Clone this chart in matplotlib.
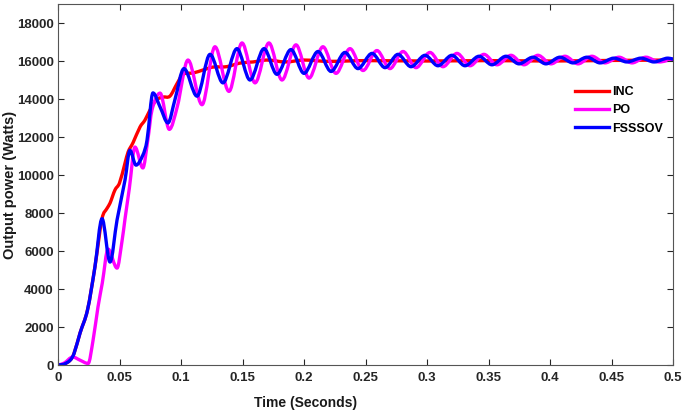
import numpy as np
import matplotlib
matplotlib.use("Agg")
import matplotlib.pyplot as plt
from matplotlib.path import Path
from matplotlib.patches import PathPatch
from matplotlib.lines import Line2D

# ---------------- data ----------------
x_ticks = [0, 0.05, 0.1, 0.15, 0.2, 0.25, 0.3, 0.35, 0.4, 0.45, 0.5]
x_tick_labels = ["0", "0.05", "0.1", "0.15", "0.2", "0.25", "0.3", "0.35", "0.4", "0.45", "0.5"]
y_ticks = [0, 2000, 4000, 6000, 8000, 10000, 12000, 14000, 16000, 18000]

series_names = ["INC", "PO", "FSSSOV"]

fsssov_t = [0, 0.005, 0.010, 0.013, 0.018, 0.024, 0.030, 0.0358, 0.0423, 0.048,
            0.0545, 0.0585, 0.0634, 0.069, 0.0724, 0.0772, 0.083, 0.0894, 0.095,
            0.1024, 0.1130, 0.1236, 0.1341, 0.1455, 0.1561, 0.1675, 0.1780,
            0.1894, 0.2000, 0.2114, 0.2220, 0.2333, 0.2439, 0.2553, 0.2659,
            0.2764, 0.2870, 0.2984, 0.3089, 0.3203, 0.3309, 0.3423, 0.3528,
            0.3642, 0.3748, 0.3862, 0.3967, 0.4081, 0.4187, 0.4301, 0.4407,
            0.4520, 0.4626, 0.4740, 0.4846, 0.4959, 0.5]
fsssov_p = [0, 50, 260, 600, 1700, 2900, 5150, 7700, 5420, 7630,
            9740, 11300, 10520, 11050, 11840, 14320, 13580, 12740, 13950,
            15600, 14150, 16350, 14850, 16650, 15000, 16650, 15300,
            16600, 15350, 16500, 15450, 16450, 15600, 16400, 15650,
            16350, 15700, 16300, 15750, 16300, 15750, 16250, 15800,
            16250, 15850, 16200, 15850, 16200, 15900, 16200, 15900,
            16150, 15950, 16150, 15950, 16150, 16100]

po_t = [0, 0.005, 0.012, 0.018, 0.0245, 0.0285, 0.0325, 0.036, 0.0407, 0.048,
        0.052, 0.0545, 0.058, 0.0626, 0.069, 0.073, 0.0764, 0.083, 0.0905, 0.097,
        0.1057, 0.1171, 0.1276, 0.1390, 0.1496, 0.1602, 0.1715, 0.1821,
        0.1935, 0.2041, 0.2154, 0.2260, 0.2374, 0.2480, 0.2593, 0.2699,
        0.2805, 0.2911, 0.3024, 0.3130, 0.3244, 0.3350, 0.3463, 0.3569,
        0.3683, 0.3789, 0.3902, 0.4008, 0.4122, 0.4228, 0.4341, 0.4447,
        0.4561, 0.4667, 0.4780, 0.4886, 0.5]
po_p = [0, 100, 420, 250, 80, 1300, 3050, 4310, 6100, 5100,
        6500, 7700, 9300, 11470, 10370, 11840, 13420, 14310, 12400, 13600,
        16050, 13700, 16750, 14400, 16950, 14850, 16950, 15000,
        16850, 15100, 16750, 15350, 16650, 15500, 16550, 15600,
        16500, 15650, 16450, 15700, 16400, 15750, 16350, 15800,
        16300, 15800, 16300, 15850, 16250, 15850, 16250, 15900,
        16200, 15900, 16200, 15950, 16100]

inc_t = [0, 0.005, 0.010, 0.013, 0.018, 0.024, 0.030, 0.0358, 0.040, 0.0423,
         0.0463, 0.050, 0.0545, 0.057, 0.061, 0.0667, 0.0707, 0.0748, 0.080,
         0.0854, 0.091, 0.0967, 0.1016, 0.110, 0.118, 0.126, 0.137, 0.148,
         0.1585, 0.170, 0.185, 0.200, 0.220, 0.250, 0.300, 0.350, 0.400, 0.450, 0.5]
inc_p = [0, 50, 260, 600, 1700, 2900, 5150, 7700, 8260, 8520,
         9210, 9580, 10630, 11210, 11700, 12530, 12890, 13420, 13950,
         14100, 14150, 14800, 15300, 15370, 15530, 15680, 15700, 15890,
         15950, 16050, 15950, 16050, 15980, 16020, 16000, 16020, 16000, 16030, 16050]

colors = ["#ff0000", "#ff00ff", "#0000ff"]


def smooth_path(xs, ys):
    xs = np.asarray(xs, float)
    ys = np.asarray(ys, float)
    n = len(xs)
    m = np.zeros(n)
    for i in range(1, n - 1):
        if (ys[i] - ys[i - 1]) * (ys[i + 1] - ys[i]) > 0:
            m[i] = (ys[i + 1] - ys[i - 1]) / (xs[i + 1] - xs[i - 1])
    m[0] = (ys[1] - ys[0]) / (xs[1] - xs[0])
    m[-1] = (ys[-1] - ys[-2]) / (xs[-1] - xs[-2])
    verts = [(xs[0], ys[0])]
    codes = [Path.MOVETO]
    for i in range(n - 1):
        dx = xs[i + 1] - xs[i]
        verts += [(xs[i] + dx / 3, ys[i] + m[i] * dx / 3),
                  (xs[i + 1] - dx / 3, ys[i + 1] - m[i + 1] * dx / 3),
                  (xs[i + 1], ys[i + 1])]
        codes += [Path.CURVE4] * 3
    return Path(verts, codes)


plt.rcParams["font.family"] = ["Liberation Sans", "DejaVu Sans"]
plt.rcParams["font.weight"] = "bold"

fig = plt.figure(figsize=(6.85, 4.16), dpi=100)
ax = fig.add_axes([58 / 685, 1 - 365 / 416, 615 / 685, 361 / 416])

lw = 2.4
for (t, p), c in zip([(inc_t, inc_p), (po_t, po_p), (fsssov_t, fsssov_p)], colors):
    ax.add_patch(PathPatch(smooth_path(t, p), fill=False, edgecolor=c, lw=lw,
                           capstyle="round", joinstyle="round"))

ax.set_xlim(0, 0.5)
ax.set_ylim(0, 19000)
ax.set_xticks(x_ticks)
ax.set_xticklabels(x_tick_labels)
ax.set_yticks(y_ticks)
ax.set_yticklabels([str(v) for v in y_ticks])
ax.tick_params(direction="in", length=4, width=0.8, top=True, right=True,
               labelsize=9.5, colors="#262626", pad=3)
ax.tick_params(axis="x", pad=5)
for lab in ax.get_xticklabels() + ax.get_yticklabels():
    lab.set_fontweight("bold")
for s in ax.spines.values():
    s.set_color("#555555")
    s.set_linewidth(0.8)

ax.set_xlabel("Time (Seconds)", fontsize=10, fontweight="bold", color="#1a1a1a")
ax.xaxis.set_label_coords((306 - 58) / 615, -0.085)
ax.set_ylabel("Output power (Watts)", fontsize=10.5, fontweight="bold", color="#1a1a1a")
ax.yaxis.set_label_coords((17 - 58) / 615, 0.5)

handles = [Line2D([0], [0], color=c, lw=lw) for c in colors]
leg = ax.legend(handles, series_names, loc="upper left",
                bbox_to_anchor=((575 - 58) / 615, (365 - 86) / 361),
                frameon=False, handlelength=2.7, handletextpad=0.3,
                labelspacing=0.5, borderpad=0, borderaxespad=0,
                prop={"weight": "bold", "size": 9})

fig.savefig("out.png", dpi=100)
